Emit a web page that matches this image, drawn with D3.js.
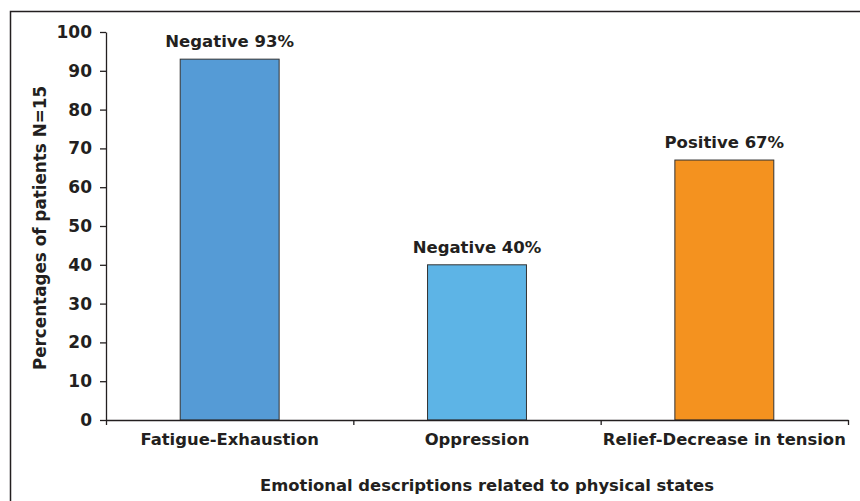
<!DOCTYPE html>
<html>
<head>
<meta charset="utf-8">
<script src="https://cdn.jsdelivr.net/npm/d3@7/dist/d3.min.js"></script>
<style>
html,body{margin:0;padding:0;background:#fff;}
svg{display:block;}
text{font-family:"DejaVu Sans",Verdana,sans-serif;font-weight:bold;fill:#231f20;}
</style>
</head>
<body>
<svg id="chart" width="860" height="501"></svg>
<script>
const categories = ["Fatigue-Exhaustion", "Oppression", "Relief-Decrease in tension"];
const values = [93, 40, 67];
const valueLabels = ["Negative 93%", "Negative 40%", "Positive 67%"];
const barColors = ["#559BD6", "#5DB4E6", "#F4921F"];
const yTicks = [0, 10, 20, 30, 40, 50, 60, 70, 80, 90, 100];
const xTitle = "Emotional descriptions related to physical states";
const yTitle = "Percentages of patients N=15";

(function () {
const svg = d3.select("#chart");
const mLeft = 106, mRight = 848, mTop = 32, mBottom = 420;

// frame
svg.append("rect").attr("x", 10.5).attr("y", 11.5).attr("width", 900).attr("height", 600)
  .attr("fill", "none").attr("stroke", "#231f20").attr("stroke-width", 1.5);

const x = d3.scaleBand().domain(categories).range([mLeft, mRight]).paddingInner(0.6).paddingOuter(0.3);
const xb = d3.scaleLinear().domain([0, categories.length]).range([mLeft, mRight]);
const y = d3.scaleLinear().domain([0, 100]).range([mBottom, mTop]);

// bars
svg.append("g").selectAll("rect").data(values).join("rect")
  .attr("x", (d, i) => x(categories[i]))
  .attr("width", x.bandwidth())
  .attr("y", d => y(d))
  .attr("height", d => y(0) - y(d))
  .attr("fill", (d, i) => barColors[i])
  .attr("stroke", "#333")
  .attr("stroke-width", 1);

// value labels
svg.append("g").selectAll("text").data(values).join("text")
  .attr("x", (d, i) => x(categories[i]) + x.bandwidth() / 2)
  .attr("y", d => y(d) - 12)
  .attr("text-anchor", "middle")
  .style("font-size", "16.5px")
  .text((d, i) => valueLabels[i]);

// y axis
const yAxis = svg.append("g").attr("transform", `translate(${mLeft},0)`)
  .call(d3.axisLeft(y).tickValues(yTicks).tickSize(6).tickSizeOuter(0).tickPadding(8));
yAxis.selectAll("text").style("font-size", "17px").attr("fill", "#231f20");
yAxis.selectAll("line,path").attr("stroke", "#231f20").attr("stroke-width", 1.3);

// x axis boundary ticks
const xAxisB = svg.append("g").attr("transform", `translate(0,${mBottom})`)
  .call(d3.axisBottom(xb).tickValues(d3.range(categories.length + 1)).tickFormat("").tickSize(5).tickSizeOuter(0));
xAxisB.selectAll("line,path").attr("stroke", "#231f20").attr("stroke-width", 1.3);

// x axis labels
const xAxisL = svg.append("g").attr("transform", `translate(0,${mBottom})`)
  .call(d3.axisBottom(x).tickSize(0).tickPadding(13));
xAxisL.select(".domain").remove();
xAxisL.selectAll("text").style("font-size", "16.4px").attr("fill", "#231f20");

// titles
svg.append("text").attr("x", 487).attr("y", 491).attr("text-anchor", "middle")
  .style("font-size", "16.4px").text(xTitle);
svg.append("text").attr("transform", `translate(46,228) rotate(-90)`)
  .attr("text-anchor", "middle").style("font-size", "16.8px").text(yTitle);
})();
</script>
</body>
</html>
